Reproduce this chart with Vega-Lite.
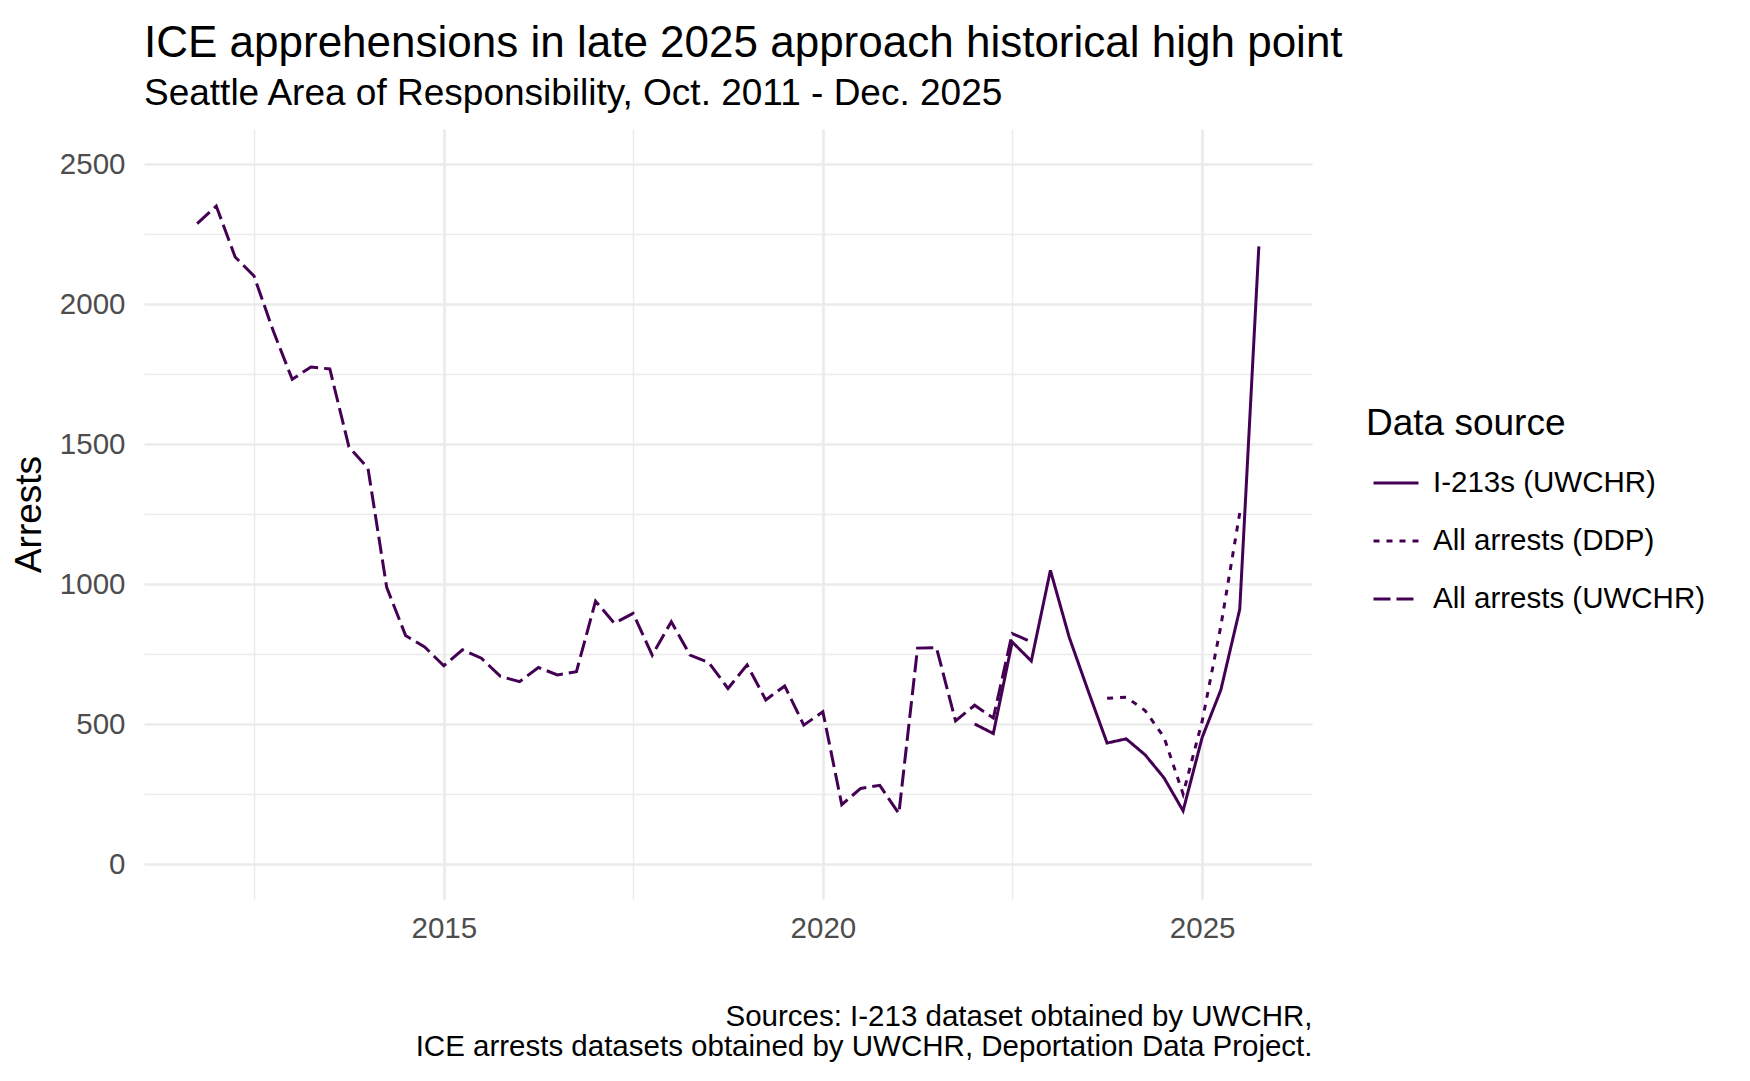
{
  "$schema": "https://vega.github.io/schema/vega-lite/v6.json",
  "width": 1168,
  "height": 770,
  "autosize": "none",
  "padding": {"left": 144, "top": 129, "right": 438, "bottom": 182},
  "background": "white",
  "title": {
    "text": "ICE apprehensions in late 2025 approach historical high point",
    "subtitle": "Seattle Area of Responsibility, Oct. 2011 - Dec. 2025",
    "anchor": "start",
    "frame": "group",
    "offset": 17,
    "font": "Liberation Sans",
    "fontSize": 44,
    "fontWeight": "normal",
    "color": "black",
    "subtitleFont": "Liberation Sans",
    "subtitleFontSize": 37,
    "subtitleColor": "black",
    "subtitlePadding": 10
  },
  "data": {
    "values": [
      {"date": "2011-10-01", "source": "All arrests (UWCHR)", "arrests": 2287},
      {"date": "2012-01-01", "source": "All arrests (UWCHR)", "arrests": 2350},
      {"date": "2012-04-01", "source": "All arrests (UWCHR)", "arrests": 2168},
      {"date": "2012-07-01", "source": "All arrests (UWCHR)", "arrests": 2100},
      {"date": "2012-10-01", "source": "All arrests (UWCHR)", "arrests": 1905},
      {"date": "2013-01-01", "source": "All arrests (UWCHR)", "arrests": 1731},
      {"date": "2013-04-01", "source": "All arrests (UWCHR)", "arrests": 1775},
      {"date": "2013-07-01", "source": "All arrests (UWCHR)", "arrests": 1768},
      {"date": "2013-10-01", "source": "All arrests (UWCHR)", "arrests": 1490},
      {"date": "2014-01-01", "source": "All arrests (UWCHR)", "arrests": 1413},
      {"date": "2014-04-01", "source": "All arrests (UWCHR)", "arrests": 988},
      {"date": "2014-07-01", "source": "All arrests (UWCHR)", "arrests": 816},
      {"date": "2014-10-01", "source": "All arrests (UWCHR)", "arrests": 775},
      {"date": "2015-01-01", "source": "All arrests (UWCHR)", "arrests": 708},
      {"date": "2015-04-01", "source": "All arrests (UWCHR)", "arrests": 765},
      {"date": "2015-07-01", "source": "All arrests (UWCHR)", "arrests": 735},
      {"date": "2015-10-01", "source": "All arrests (UWCHR)", "arrests": 670},
      {"date": "2016-01-01", "source": "All arrests (UWCHR)", "arrests": 651},
      {"date": "2016-04-01", "source": "All arrests (UWCHR)", "arrests": 702},
      {"date": "2016-07-01", "source": "All arrests (UWCHR)", "arrests": 675},
      {"date": "2016-10-01", "source": "All arrests (UWCHR)", "arrests": 687},
      {"date": "2017-01-01", "source": "All arrests (UWCHR)", "arrests": 939},
      {"date": "2017-04-01", "source": "All arrests (UWCHR)", "arrests": 860},
      {"date": "2017-07-01", "source": "All arrests (UWCHR)", "arrests": 895},
      {"date": "2017-10-01", "source": "All arrests (UWCHR)", "arrests": 746},
      {"date": "2018-01-01", "source": "All arrests (UWCHR)", "arrests": 865},
      {"date": "2018-04-01", "source": "All arrests (UWCHR)", "arrests": 746},
      {"date": "2018-07-01", "source": "All arrests (UWCHR)", "arrests": 719},
      {"date": "2018-10-01", "source": "All arrests (UWCHR)", "arrests": 627},
      {"date": "2019-01-01", "source": "All arrests (UWCHR)", "arrests": 711},
      {"date": "2019-04-01", "source": "All arrests (UWCHR)", "arrests": 586},
      {"date": "2019-07-01", "source": "All arrests (UWCHR)", "arrests": 636},
      {"date": "2019-10-01", "source": "All arrests (UWCHR)", "arrests": 496},
      {"date": "2020-01-01", "source": "All arrests (UWCHR)", "arrests": 544},
      {"date": "2020-04-01", "source": "All arrests (UWCHR)", "arrests": 212},
      {"date": "2020-07-01", "source": "All arrests (UWCHR)", "arrests": 270},
      {"date": "2020-10-01", "source": "All arrests (UWCHR)", "arrests": 281},
      {"date": "2021-01-01", "source": "All arrests (UWCHR)", "arrests": 180},
      {"date": "2021-04-01", "source": "All arrests (UWCHR)", "arrests": 771},
      {"date": "2021-07-01", "source": "All arrests (UWCHR)", "arrests": 773},
      {"date": "2021-10-01", "source": "All arrests (UWCHR)", "arrests": 511},
      {"date": "2022-01-01", "source": "All arrests (UWCHR)", "arrests": 567},
      {"date": "2022-04-01", "source": "All arrests (UWCHR)", "arrests": 521},
      {"date": "2022-07-01", "source": "All arrests (UWCHR)", "arrests": 823},
      {"date": "2022-10-01", "source": "All arrests (UWCHR)", "arrests": 793},
      {"date": "2022-01-01", "source": "I-213s (UWCHR)", "arrests": 500},
      {"date": "2022-04-01", "source": "I-213s (UWCHR)", "arrests": 466},
      {"date": "2022-07-01", "source": "I-213s (UWCHR)", "arrests": 793},
      {"date": "2022-10-01", "source": "I-213s (UWCHR)", "arrests": 725},
      {"date": "2023-01-01", "source": "I-213s (UWCHR)", "arrests": 1049},
      {"date": "2023-04-01", "source": "I-213s (UWCHR)", "arrests": 811},
      {"date": "2023-07-01", "source": "I-213s (UWCHR)", "arrests": 620},
      {"date": "2023-10-01", "source": "I-213s (UWCHR)", "arrests": 432},
      {"date": "2024-01-01", "source": "I-213s (UWCHR)", "arrests": 447},
      {"date": "2024-04-01", "source": "I-213s (UWCHR)", "arrests": 390},
      {"date": "2024-07-01", "source": "I-213s (UWCHR)", "arrests": 308},
      {"date": "2024-10-01", "source": "I-213s (UWCHR)", "arrests": 190},
      {"date": "2025-01-01", "source": "I-213s (UWCHR)", "arrests": 452},
      {"date": "2025-04-01", "source": "I-213s (UWCHR)", "arrests": 622},
      {"date": "2025-07-01", "source": "I-213s (UWCHR)", "arrests": 910},
      {"date": "2025-10-01", "source": "I-213s (UWCHR)", "arrests": 2206},
      {"date": "2023-10-01", "source": "All arrests (DDP)", "arrests": 592},
      {"date": "2024-01-01", "source": "All arrests (DDP)", "arrests": 596},
      {"date": "2024-04-01", "source": "All arrests (DDP)", "arrests": 548},
      {"date": "2024-07-01", "source": "All arrests (DDP)", "arrests": 453},
      {"date": "2024-10-01", "source": "All arrests (DDP)", "arrests": 250},
      {"date": "2025-01-01", "source": "All arrests (DDP)", "arrests": 510},
      {"date": "2025-04-01", "source": "All arrests (DDP)", "arrests": 850},
      {"date": "2025-07-01", "source": "All arrests (DDP)", "arrests": 1254}
    ]
  },
  "mark": {"type": "line", "color": "#440154", "strokeWidth": 3, "strokeCap": "butt"},
  "encoding": {
    "x": {
      "field": "date",
      "type": "temporal",
      "scale": {
        "type": "utc",
        "domain": [
          {"year": 2011, "month": 1, "date": 18, "utc": true},
          {"year": 2026, "month": 6, "date": 14, "utc": true}
        ]
      },
      "axis": {
        "values": [
          {"year": 2012, "month": 7, "date": 1, "utc": true},
          {"year": 2015, "month": 1, "date": 1, "utc": true},
          {"year": 2017, "month": 7, "date": 1, "utc": true},
          {"year": 2020, "month": 1, "date": 1, "utc": true},
          {"year": 2022, "month": 7, "date": 1, "utc": true},
          {"year": 2025, "month": 1, "date": 1, "utc": true}
        ],
        "labelExpr": "utcmonth(datum.value) == 0 ? utcFormat(datum.value, '%Y') : ''",
        "gridWidth": {"condition": {"test": "utcmonth(datum.value) == 0", "value": 2.7}, "value": 1.4},
        "gridColor": "#EBEBEB",
        "domain": false,
        "ticks": false,
        "labelFont": "Liberation Sans",
        "labelFontSize": 29.5,
        "labelColor": "#4D4D4D",
        "labelPadding": 15,
        "title": [
          "Sources: I-213 dataset obtained by UWCHR,",
          "ICE arrests datasets obtained by UWCHR, Deportation Data Project."
        ],
        "titleAnchor": "end",
        "titleAlign": "right",
        "titleFont": "Liberation Sans",
        "titleFontSize": 29.5,
        "titleFontWeight": "normal",
        "titleColor": "black",
        "titleLineHeight": 30,
        "titlePadding": 60
      }
    },
    "y": {
      "field": "arrests",
      "type": "quantitative",
      "scale": {"domain": [-125, 2625], "nice": false, "zero": false},
      "axis": {
        "values": [0, 250, 500, 750, 1000, 1250, 1500, 1750, 2000, 2250, 2500],
        "labelExpr": "datum.value % 500 == 0 ? datum.label : ''",
        "format": "d",
        "gridWidth": {"condition": {"test": "datum.value % 500 == 0", "value": 2.7}, "value": 1.4},
        "gridColor": "#EBEBEB",
        "domain": false,
        "ticks": false,
        "labelFont": "Liberation Sans",
        "labelFontSize": 29.5,
        "labelColor": "#4D4D4D",
        "labelPadding": 19,
        "title": "Arrests",
        "titleFont": "Liberation Sans",
        "titleFontSize": 37,
        "titleFontWeight": "normal",
        "titleColor": "black",
        "titlePadding": 11
      }
    },
    "strokeDash": {
      "field": "source",
      "type": "nominal",
      "scale": {
        "domain": ["I-213s (UWCHR)", "All arrests (DDP)", "All arrests (UWCHR)"],
        "range": [[1, 0], [6, 7], [17, 6]]
      },
      "legend": {
        "title": "Data source",
        "orient": "none",
        "legendX": 1222,
        "legendY": 277,
        "titleFont": "Liberation Sans",
        "titleFontSize": 37,
        "titleFontWeight": "normal",
        "titleColor": "black",
        "titlePadding": 16,
        "titleLimit": 0,
        "labelFont": "Liberation Sans",
        "labelFontSize": 29.5,
        "labelColor": "black",
        "labelOffset": 13,
        "labelLimit": 0,
        "symbolType": "stroke",
        "symbolSize": 2025,
        "symbolStrokeWidth": 3,
        "symbolStrokeColor": "#440154",
        "symbolOffset": 6,
        "rowPadding": 19
      }
    }
  },
  "config": {"view": {"stroke": null}}
}
